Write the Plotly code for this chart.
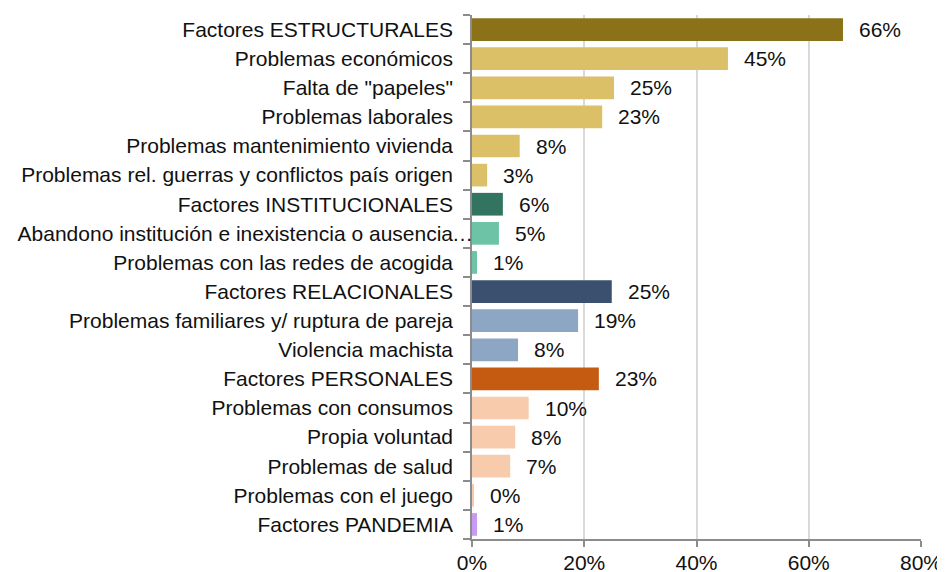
import plotly.graph_objects as go

categories = [
    "Factores ESTRUCTURALES",
    "Problemas económicos",
    'Falta de "papeles"',
    "Problemas laborales",
    "Problemas mantenimiento vivienda",
    "Problemas rel. guerras y conflictos país origen",
    "Factores INSTITUCIONALES",
    "Abandono institución e inexistencia o ausencia…",
    "Problemas con las redes de acogida",
    "Factores RELACIONALES",
    "Problemas familiares y/ ruptura de pareja",
    "Violencia machista",
    "Factores PERSONALES",
    "Problemas con consumos",
    "Propia voluntad",
    "Problemas de salud",
    "Problemas con el juego",
    "Factores PANDEMIA",
]
values = [66.1, 45.6, 25.3, 23.2, 8.5, 2.7, 5.5, 4.8, 0.9,
          24.9, 18.9, 8.2, 22.6, 10.1, 7.7, 6.8, 0.3, 0.9]
labels = ["66%", "45%", "25%", "23%", "8%", "3%", "6%", "5%", "1%",
          "25%", "19%", "8%", "23%", "10%", "8%", "7%", "0%", "1%"]
colors = ["#8B7219", "#DBC068", "#DBC068", "#DBC068", "#DBC068", "#DBC068",
          "#32745F", "#6CC3A6", "#6CC3A6",
          "#3A506E", "#8CA6C4", "#8CA6C4",
          "#C55A11", "#F8CBAD", "#F8CBAD", "#F8CBAD", "#F8CBAD",
          "#C79BF2"]
x_ticks = [0, 20, 40, 60, 80]

FONT = "Liberation Sans, Arial, sans-serif"
FS = 21
ELL = "…"

# truncated labels: text before the ellipsis sits in the tick label, the
# ellipsis itself overflows towards the axis as in the original
tick_text = [c[:-1] if c.endswith(ELL) else c for c in categories]

fig = go.Figure(go.Bar(
    x=values, y=categories, orientation="h",
    marker=dict(color=colors, line=dict(width=0)),
    hoverinfo="skip",
))

for c, v, t in zip(categories, values, labels):
    fig.add_annotation(x=v, y=c, text=t, showarrow=False, xanchor="left",
                       xshift=14, font=dict(family=FONT, size=FS, color="#111"))

for c in categories:
    if c.endswith(ELL):
        fig.add_annotation(x=0, y=c, text=ELL, showarrow=False, xanchor="left",
                           xshift=-22, font=dict(family=FONT, size=FS, color="#111"))

# the page body adds an 8px margin, so the figure is sized/offset for it
fig.update_layout(
    width=937, height=564,
    margin=dict(l=464, r=24, t=7, b=33),
    paper_bgcolor="white", plot_bgcolor="white",
    bargap=0.22, showlegend=False,
    font=dict(family=FONT, size=FS, color="#111"),
)
fig.update_xaxes(
    range=[0, 80], tickvals=x_ticks, ticktext=[f"{v}%" for v in x_ticks],
    showgrid=True, gridcolor="#D9D9D9", gridwidth=1.5,
    showline=True, linecolor="#8C8C8C", linewidth=1.5,
    ticks="outside", ticklen=6, tickcolor="#8C8C8C", tickwidth=1.5,
    zeroline=False, ticklabelstandoff=-2, automargin=False,
    tickfont=dict(family=FONT, size=FS, color="#111"),
)
fig.update_yaxes(
    type="category", autorange="reversed",
    tickmode="array", tickvals=categories, ticktext=tick_text,
    showline=True, linecolor="#8C8C8C", linewidth=1.5,
    ticks="outside", ticklen=7, tickcolor="#8C8C8C", tickwidth=1.5,
    tickson="boundaries", showgrid=False, ticklabelstandoff=13,
    automargin=False,
    tickfont=dict(family=FONT, size=FS, color="#111"),
)

fig.write_html("out.html")
